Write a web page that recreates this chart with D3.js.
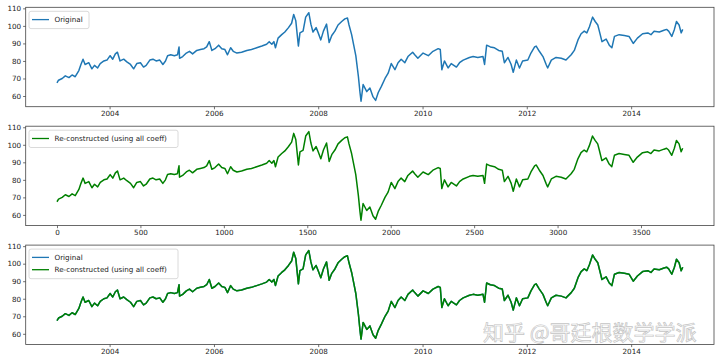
<!DOCTYPE html>
<html>
<head>
<meta charset="utf-8">
<script src="https://cdn.jsdelivr.net/npm/d3@7"></script>
<style>
  body { margin: 0; background: #fff; }
  svg { display: block; font-family: "DejaVu Sans", sans-serif; }
</style>
</head>
<body>
<svg width="720" height="362"></svg>
<script>
const years = [
  2002.99, 2003.02, 2003.09, 2003.15, 2003.22, 2003.28, 2003.34, 2003.41, 2003.45, 2003.49,
  2003.53, 2003.60, 2003.66, 2003.71, 2003.77, 2003.82, 2003.89, 2003.95, 2004.01, 2004.06,
  2004.11, 2004.15, 2004.20, 2004.27, 2004.33, 2004.40, 2004.46, 2004.52, 2004.59, 2004.65,
  2004.70, 2004.77, 2004.83, 2004.89, 2004.96, 2005.02, 2005.07, 2005.11, 2005.17, 2005.24,
  2005.30, 2005.33, 2005.34, 2005.40, 2005.47, 2005.53, 2005.59, 2005.67, 2005.74, 2005.81,
  2005.86, 2005.91, 2005.96, 2006.02, 2006.09, 2006.15, 2006.21, 2006.26, 2006.32, 2006.37,
  2006.44, 2006.53, 2006.63, 2006.72, 2006.82, 2006.92, 2007.01, 2007.06, 2007.11, 2007.15,
  2007.18, 2007.23, 2007.30, 2007.36, 2007.43, 2007.49, 2007.53, 2007.57, 2007.62, 2007.65,
  2007.71, 2007.76, 2007.82, 2007.86, 2007.90, 2007.96, 2008.00, 2008.05, 2008.10, 2008.16,
  2008.21, 2008.26, 2008.32, 2008.38, 2008.45, 2008.51, 2008.56, 2008.59, 2008.64, 2008.68,
  2008.72, 2008.77, 2008.80, 2008.82, 2008.86, 2008.93, 2008.99, 2009.05, 2009.10, 2009.15,
  2009.21, 2009.28, 2009.34, 2009.40, 2009.47, 2009.53, 2009.59, 2009.66, 2009.72, 2009.81,
  2009.85, 2009.91, 2010.01, 2010.11, 2010.20, 2010.30, 2010.34, 2010.37, 2010.42, 2010.49,
  2010.55, 2010.65, 2010.71, 2010.78, 2010.90, 2010.97, 2011.06, 2011.16, 2011.19, 2011.23,
  2011.30, 2011.38, 2011.46, 2011.53, 2011.57, 2011.64, 2011.70, 2011.74, 2011.80, 2011.86,
  2011.92, 2012.02, 2012.08, 2012.15, 2012.18, 2012.24, 2012.31, 2012.37, 2012.40, 2012.47,
  2012.56, 2012.66, 2012.75, 2012.85, 2012.91, 2012.98, 2013.04, 2013.10, 2013.15, 2013.20,
  2013.26, 2013.31, 2013.36, 2013.39, 2013.44, 2013.52, 2013.58, 2013.63, 2013.68, 2013.77,
  2013.87, 2013.96, 2014.04, 2014.12, 2014.22, 2014.32, 2014.38, 2014.44, 2014.54, 2014.63,
  2014.68, 2014.72, 2014.78, 2014.83, 2014.87, 2014.92, 2014.96, 2014.99
];
const price = [
  67.5, 69, 70, 71.5, 70.5, 72, 71, 74.5, 78, 81,
  78, 79, 75.5, 77.5, 76, 78.5, 80, 80.5, 83, 81,
  84, 85, 80, 81, 79.5, 78, 75.5, 78.5, 79, 76.5,
  77.5, 80.5, 81, 80, 80.5, 78, 80, 83, 83.5, 83,
  83.5, 88, 81.5, 82.5, 84.5, 85.5, 84, 86, 86.5, 87,
  88, 91, 86, 87, 89, 87, 86.5, 83.5, 87.5, 85.5,
  84.5, 85, 86, 86.5, 87.5, 88.5, 89.5, 91, 89.5, 91,
  87.5, 93, 95, 96.5, 99, 101.5, 106.5, 103, 88.5, 96,
  97, 105, 107.5, 101, 96.5, 99, 96, 92, 97, 101,
  90.5, 94.5, 97, 100.5, 102.5, 104, 104.5, 100.5, 95, 89,
  83, 71, 62, 57, 66.5, 62.5, 64.5, 59.5, 57.5, 62,
  65.5, 70, 73, 78.5, 75, 79, 81, 79, 82.5, 85,
  83.5, 81.5, 84.5, 83, 85.5, 87, 86.5, 75, 80, 76,
  78.5, 76.5, 79, 80.5, 82, 82.5, 82, 82.5, 78, 89,
  88, 87.5, 86, 85.5, 79, 82, 78, 73.5, 80.5, 76,
  80, 80.5, 84.5, 88, 88.5, 85.5, 82.5, 78, 76, 80.5,
  82, 81.5, 80.5, 83.5, 86, 92, 95.5, 97, 96, 99.5,
  105, 102.5, 100.5, 97, 91, 92.5, 89, 87.5, 94, 95,
  94.5, 94, 90, 93, 95.5, 96, 95, 97, 96.5, 97.5,
  98, 97, 94, 98, 102.5, 100.5, 96, 98
];
const nObs = 3751;            // number of trading days in the series
const yTicks = [60, 70, 80, 90, 100, 110];
const idxTicks = [0, 500, 1000, 1500, 2000, 2500, 3000, 3500];

const blue = "#1f77b4", green = "#008000";
const left = 25.7, right = 714, panelH = 99.4;
const panelTops = [7.3, 126.2, 245.1];

function toDate(v) {
  const y0 = Math.floor(v);
  const a = new Date(y0, 0, 1), b = new Date(y0 + 1, 0, 1);
  return new Date(+a + (v - y0) * (b - a));
}

const t0 = years[0], t1 = years[years.length - 1];
const pts = years.map((t, i) => ({
  date: toDate(t),
  idx: (t - t0) / (t1 - t0) * (nObs - 1),
  v: price[i]
}));

const pad = (t1 - t0) * 0.05;
const xTime = d3.scaleTime()
  .domain([toDate(t0 - pad), toDate(t1 + pad)])
  .range([left, right]);
const xIdx = d3.scaleLinear()
  .domain([-0.05 * (nObs - 1), 1.05 * (nObs - 1)])
  .range([left, right]);
const y = d3.scaleLinear().domain([53.9, 110.6]).range([panelH, 0]);

const svg = d3.select("svg");

function panel(top, xScale, xKey, ticks, tickFmt, series, legendItems) {
  const g = svg.append("g").attr("transform", `translate(0,${top})`);

  const line = d3.line().x(d => xScale(d[xKey])).y(d => y(d.v));
  series.forEach(color => {
    g.append("path")
      .datum(pts)
      .attr("fill", "none")
      .attr("stroke", color)
      .attr("stroke-width", 1.5)
      .attr("stroke-linejoin", "round")
      .attr("d", line);
  });

  const xa = d3.axisBottom(xScale).tickSize(2.6).tickPadding(2);
  if (ticks) xa.tickValues(ticks);
  else xa.ticks(d3.timeYear.every(2));
  if (tickFmt) xa.tickFormat(tickFmt);
  const gx = g.append("g").attr("transform", `translate(0,${panelH})`).call(xa);

  const gy = g.append("g").attr("transform", `translate(${left},0)`)
    .call(d3.axisLeft(y).tickValues(yTicks).tickSize(2.6).tickPadding(2));

  [gx, gy].forEach(a => {
    a.select(".domain").remove();
    a.selectAll("line").attr("stroke", "#333").attr("stroke-width", 0.7);
    a.selectAll("text").attr("fill", "#222").style("font-size", "7.2px")
      .style("font-family", "DejaVu Sans, sans-serif");
  });

  g.append("rect")
    .attr("x", left).attr("y", 0)
    .attr("width", right - left).attr("height", panelH)
    .attr("fill", "none").attr("stroke", "#444").attr("stroke-width", 0.8);

  // legend
  const lw = legendItems.length > 1 || legendItems[0].label.length > 10 ? 149 : 60;
  const lg = g.append("g").attr("transform", "translate(29,4)");
  lg.append("rect")
    .attr("width", lw).attr("height", 5 + legendItems.length * 12.3)
    .attr("rx", 2).attr("fill", "#fff").attr("fill-opacity", 0.8)
    .attr("stroke", "#d0d0d0").attr("stroke-width", 0.8);
  legendItems.forEach((it, i) => {
    const cy = 8.3 + i * 12.3;
    lg.append("line").attr("x1", 3).attr("x2", 20).attr("y1", cy).attr("y2", cy)
      .attr("stroke", it.color).attr("stroke-width", 1.3);
    lg.append("text").attr("x", 25.5).attr("y", cy).attr("dy", "0.35em")
      .attr("fill", "#222").style("font-size", "7.2px").text(it.label);
  });
}

panel(panelTops[0], xTime, "date", null, d3.timeFormat("%Y"), [blue],
  [{ label: "Original", color: blue }]);
panel(panelTops[1], xIdx, "idx", idxTicks, d3.format("d"), [green],
  [{ label: "Re-constructed (using all coeff)", color: green }]);
panel(panelTops[2], xTime, "date", null, d3.timeFormat("%Y"), [blue, green],
  [{ label: "Original", color: blue }, { label: "Re-constructed (using all coeff)", color: green }]);

// watermark
svg.append("text")
  .attr("x", 483).attr("y", 340)
  .attr("fill", "#fff").attr("fill-opacity", 0.9)
  .attr("stroke", "#c4c4c4").attr("stroke-width", 0.7)
  .style("font-family", "Noto Sans CJK SC, sans-serif")
  .style("font-size", "21px")
  .text("知乎 @哥廷根数学学派");
</script>
</body>
</html>
